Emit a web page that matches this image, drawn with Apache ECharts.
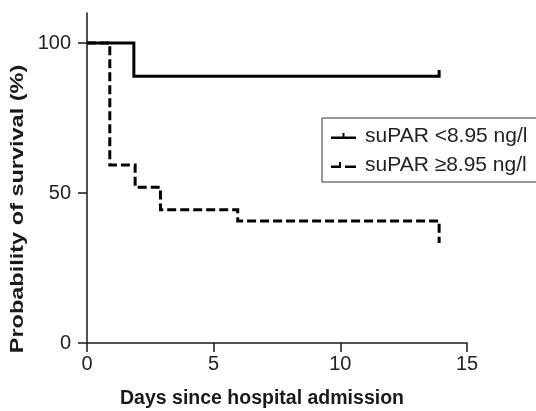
<!DOCTYPE html>
<html>
<head>
<meta charset="utf-8">
<script src="https://cdn.jsdelivr.net/npm/echarts@6/dist/echarts.min.js"></script>
<style>
html,body{margin:0;padding:0;background:#fff;}
#c{width:536px;height:411px;}
</style>
</head>
<body>
<div id="c"></div>
<script>
// Data
var seriesNames = ['suPAR <8.95 ng/l', 'suPAR \u22658.95 ng/l'];
// Kaplan-Meier steps: [day, survival %]
var lowDays = [0, 1.85, 13.9, 13.9];
var lowSurv = [100, 88.9, 88.9, 91];
var highDays = [0, 0.9, 1.9, 2.9, 5.95, 13.9, 13.9];
var highSurv = [100, 59.3, 51.9, 44.4, 40.7, 40.7, 33.3];
var xTicks = [0, 5, 10, 15];
var yTicks = [0, 50, 100];
var xTitle = 'Days since hospital admission';
var yTitle = 'Probability of survival (%)';

function pairs(xs, ys) { return xs.map(function (x, i) { return [x, ys[i]]; }); }

var FONT = 'Liberation Sans, Arial, sans-serif';
var chart = echarts.init(document.getElementById('c'), null, {renderer: 'canvas'});
chart.setOption({
  animation: false,
  backgroundColor: '#fff',
  grid: {left: 87, right: 69, top: 13, bottom: 68, containLabel: false},
  xAxis: {
    type: 'value', min: 0, max: 15, interval: 5,
    axisLine: {lineStyle: {color: '#1a1a1a', width: 1.5}},
    axisTick: {show: true, length: 9, lineStyle: {color: '#1a1a1a', width: 1.5}, customValues: xTicks},
    axisLabel: {color: '#222', fontSize: 20, fontFamily: FONT, margin: 11, customValues: xTicks},
    splitLine: {show: false}
  },
  yAxis: {
    type: 'value', min: 0, max: 110, interval: 50,
    axisLine: {show: true, lineStyle: {color: '#1a1a1a', width: 1.5}},
    axisTick: {show: true, length: 9, lineStyle: {color: '#1a1a1a', width: 1.5}, customValues: yTicks},
    axisLabel: {color: '#222', fontSize: 20, fontFamily: FONT, margin: 16, customValues: yTicks},
    splitLine: {show: false}
  },
  legend: {
    orient: 'vertical',
    left: 322, top: 118,
    borderColor: '#333', borderWidth: 1,
    padding: [7.5, 12, 6.5, 9],
    itemGap: 8,
    itemWidth: 29, itemHeight: 6,
    textStyle: {color: '#222', fontSize: 21, fontFamily: FONT, lineHeight: 21},
    data: [
      {name: seriesNames[0], icon: 'path://M0,3.5L25,3.5L25,6L0,6Z M11.5,0L13.5,0L13.5,3.5L11.5,3.5Z M29,6L29,6'},
      {name: seriesNames[1], icon: 'path://M0,3.5L10,3.5L10,6L0,6Z M8,0L10,0L10,3.5L8,3.5Z M14,3.5L25,3.5L25,6L14,6Z M29,6L29,6'}
    ]
  },
  graphic: [
    {type: 'text', position: [262, 399], style: {text: xTitle, font: 'bold 19.5px ' + FONT, fill: '#1a1a1a', textAlign: 'center', textVerticalAlign: 'middle'}},
    {type: 'text', rotation: Math.PI / 2, scaleX: 1.27, position: [18, 209], style: {text: yTitle, font: 'bold 18.5px ' + FONT, fill: '#1a1a1a', textAlign: 'center', textVerticalAlign: 'middle'}}
  ],
  series: [
    {
      name: seriesNames[0], type: 'line', step: 'end', symbol: 'none',
      color: '#000',
      lineStyle: {color: '#000', width: 3, cap: 'butt', join: 'miter'},
      data: pairs(lowDays, lowSurv)
    },
    {
      name: seriesNames[1], type: 'line', step: 'end', symbol: 'none',
      color: '#000',
      lineStyle: {color: '#000', width: 3, type: [9, 4], cap: 'butt', join: 'miter'},
      data: pairs(highDays, highSurv)
    }
  ]
});
</script>
</body>
</html>
